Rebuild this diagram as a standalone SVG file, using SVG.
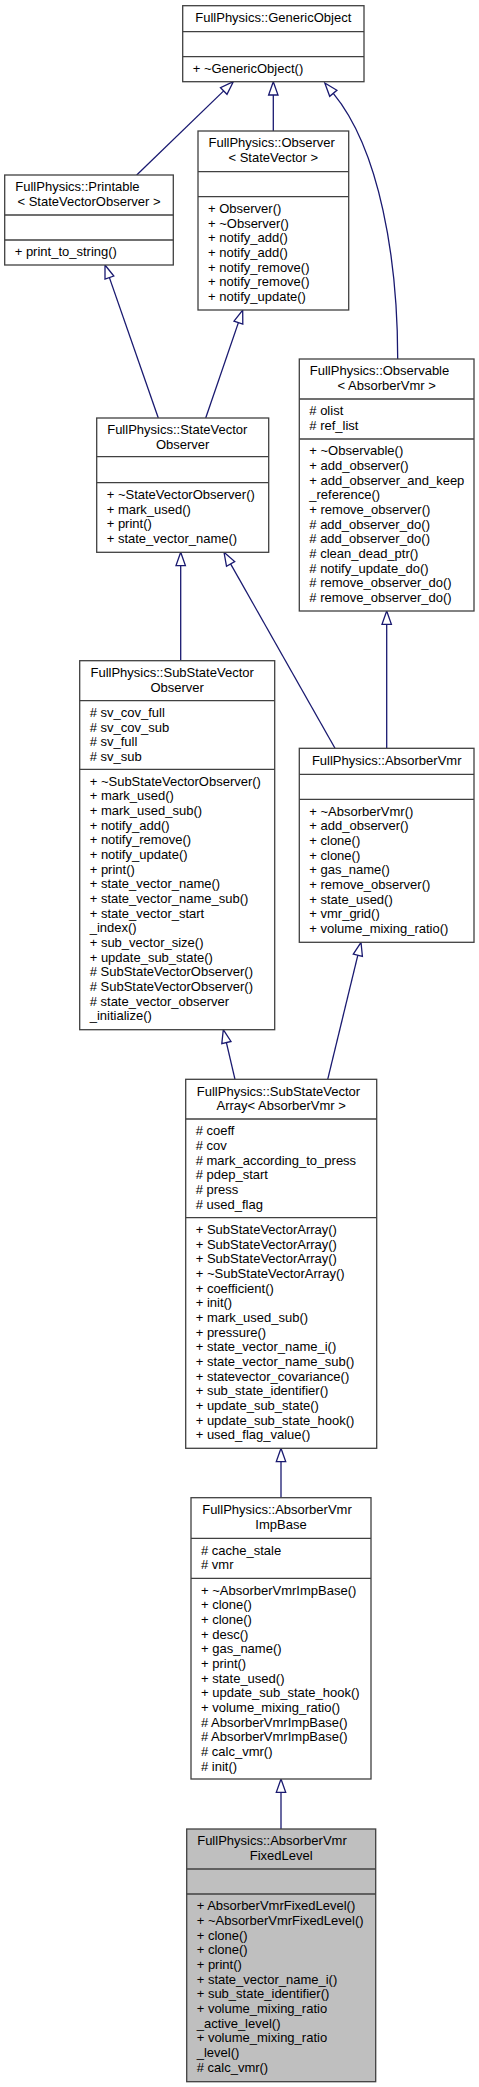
<svg xmlns="http://www.w3.org/2000/svg" width="479" height="2087" viewBox="0 0 479 2087">
<style>
rect{fill:#ffffff;stroke:#404040;stroke-width:1.3}
rect.cur{fill:#bfbfbf}
line.d{stroke:#404040;stroke-width:1.3}
text{font-family:"Liberation Sans",Arial,Helvetica,sans-serif;font-size:13px;fill:#000000}
text.c{text-anchor:middle}
.edges path{fill:none;stroke:#191970;stroke-width:1.3}
.edges polygon{fill:#ffffff;stroke:#191970;stroke-width:1.3}
</style>
<rect x="0" y="0" width="479" height="2087" style="fill:#ffffff;stroke:none"/>

<g id="edges" class="edges">
<path d="M136.7,175 L223.7,90.9"/>
<polygon points="233.3,81.7 227,94.3 220.5,87.6"/>
<path d="M273.3,131 L273.3,95"/>
<polygon points="273.3,81.7 278,95 268.6,95"/>
<path d="M397.7,359 C397.7,260 380,150 333.3,93.3"/>
<polygon points="324.8,83 336.9,90.3 329.7,96.3"/>
<path d="M158.3,418 L109.4,277.6"/>
<polygon points="105,265 113.8,276 105,279.1"/>
<path d="M205.7,418 L238.4,322.6"/>
<polygon points="242.7,310 242.8,324.1 234,321.1"/>
<path d="M180.7,660.7 L180.7,565.6"/>
<polygon points="180.7,552.3 185.4,565.6 176,565.6"/>
<path d="M335,748.3 L230.6,563.9"/>
<polygon points="224,552.3 234.7,561.6 226.5,566.2"/>
<path d="M386.7,748.3 L386.7,624.3"/>
<polygon points="386.7,611 391.4,624.3 382,624.3"/>
<path d="M235,1079.3 L226.4,1042.6"/>
<polygon points="223.3,1029.7 231,1041.5 221.8,1043.7"/>
<path d="M327.7,1079.3 L357.85,955.2"/>
<polygon points="361,942.3 362.4,956.3 353.3,954.1"/>
<path d="M281,1497.7 L281,1461.6"/>
<polygon points="281,1448.3 285.7,1461.6 276.3,1461.6"/>
<path d="M281,1829 L281,1792.3"/>
<polygon points="281,1779 285.7,1792.3 276.3,1792.3"/>
</g>

<g id="GenericObject">
<rect x="182.7" y="5.7" width="181.3" height="76"/>
<line class="d" x1="182.7" y1="31.7" x2="364" y2="31.7"/>
<line class="d" x1="182.7" y1="56.7" x2="364" y2="56.7"/>
<text class="c" x="273.3" y="22">FullPhysics::GenericObject</text>
<text x="192.7" y="73">+ ~GenericObject()</text>
</g>

<g id="Observer">
<rect x="198" y="131" width="150.7" height="179"/>
<line class="d" x1="198" y1="171.7" x2="348.7" y2="171.7"/>
<line class="d" x1="198" y1="196.7" x2="348.7" y2="196.7"/>
<text x="208.5" y="147.3">FullPhysics::Observer</text>
<text class="c" x="273.3" y="162">&lt; StateVector &gt;</text>
<text x="208" y="213">+ Observer()</text>
<text x="208" y="227.7">+ ~Observer()</text>
<text x="208" y="242.3">+ notify_add()</text>
<text x="208" y="257">+ notify_add()</text>
<text x="208" y="271.7">+ notify_remove()</text>
<text x="208" y="286.3">+ notify_remove()</text>
<text x="208" y="301">+ notify_update()</text>
</g>

<g id="Printable">
<rect x="4.7" y="175" width="168.6" height="90"/>
<line class="d" x1="4.7" y1="215" x2="173.3" y2="215"/>
<line class="d" x1="4.7" y1="240" x2="173.3" y2="240"/>
<text x="15.3" y="191.3">FullPhysics::Printable</text>
<text class="c" x="89" y="206">&lt; StateVectorObserver &gt;</text>
<text x="14.7" y="256.3">+ print_to_string()</text>
</g>

<g id="Observable">
<rect x="299.3" y="359" width="174.7" height="252"/>
<line class="d" x1="299.3" y1="399" x2="474" y2="399"/>
<line class="d" x1="299.3" y1="439" x2="474" y2="439"/>
<text x="309.8" y="375.3">FullPhysics::Observable</text>
<text class="c" x="386.7" y="390">&lt; AbsorberVmr &gt;</text>
<text x="309.3" y="415.3"># olist</text>
<text x="309.3" y="430"># ref_list</text>
<text x="309.3" y="455.3">+ ~Observable()</text>
<text x="309.3" y="470">+ add_observer()</text>
<text x="309.3" y="484.7">+ add_observer_and_keep</text>
<text x="309.3" y="499.3">_reference()</text>
<text x="309.3" y="514">+ remove_observer()</text>
<text x="309.3" y="528.7"># add_observer_do()</text>
<text x="309.3" y="543.3"># add_observer_do()</text>
<text x="309.3" y="558"># clean_dead_ptr()</text>
<text x="309.3" y="572.7"># notify_update_do()</text>
<text x="309.3" y="587.3"># remove_observer_do()</text>
<text x="309.3" y="602"># remove_observer_do()</text>
</g>

<g id="StateVectorObserver">
<rect x="96.7" y="418" width="172" height="134.3"/>
<line class="d" x1="96.7" y1="456.7" x2="268.7" y2="456.7"/>
<line class="d" x1="96.7" y1="482.7" x2="268.7" y2="482.7"/>
<text x="107.2" y="434.3">FullPhysics::StateVector</text>
<text class="c" x="182.7" y="449">Observer</text>
<text x="106.7" y="499">+ ~StateVectorObserver()</text>
<text x="106.7" y="513.7">+ mark_used()</text>
<text x="106.7" y="528.3">+ print()</text>
<text x="106.7" y="543">+ state_vector_name()</text>
</g>

<g id="SubStateVectorObserver">
<rect x="79.7" y="660.7" width="195" height="369"/>
<line class="d" x1="79.7" y1="700.7" x2="274.7" y2="700.7"/>
<line class="d" x1="79.7" y1="769.3" x2="274.7" y2="769.3"/>
<text x="90.5" y="677">FullPhysics::SubStateVector</text>
<text class="c" x="177.2" y="691.7">Observer</text>
<text x="89.7" y="717"># sv_cov_full</text>
<text x="89.7" y="731.7"># sv_cov_sub</text>
<text x="89.7" y="746.3"># sv_full</text>
<text x="89.7" y="761"># sv_sub</text>
<text x="89.7" y="785.6">+ ~SubStateVectorObserver()</text>
<text x="89.7" y="800.3">+ mark_used()</text>
<text x="89.7" y="814.9">+ mark_used_sub()</text>
<text x="89.7" y="829.6">+ notify_add()</text>
<text x="89.7" y="844.3">+ notify_remove()</text>
<text x="89.7" y="858.9">+ notify_update()</text>
<text x="89.7" y="873.6">+ print()</text>
<text x="89.7" y="888.3">+ state_vector_name()</text>
<text x="89.7" y="902.9">+ state_vector_name_sub()</text>
<text x="89.7" y="917.6">+ state_vector_start</text>
<text x="89.7" y="932.3">_index()</text>
<text x="89.7" y="946.9">+ sub_vector_size()</text>
<text x="89.7" y="961.6">+ update_sub_state()</text>
<text x="89.7" y="976.3"># SubStateVectorObserver()</text>
<text x="89.7" y="990.9"># SubStateVectorObserver()</text>
<text x="89.7" y="1005.6"># state_vector_observer</text>
<text x="89.7" y="1020.3">_initialize()</text>
</g>

<g id="AbsorberVmr">
<rect x="299.3" y="748.3" width="174.7" height="194"/>
<line class="d" x1="299.3" y1="774.3" x2="474" y2="774.3"/>
<line class="d" x1="299.3" y1="799.3" x2="474" y2="799.3"/>
<text class="c" x="386.7" y="764.6">FullPhysics::AbsorberVmr</text>
<text x="309.3" y="815.6">+ ~AbsorberVmr()</text>
<text x="309.3" y="830.3">+ add_observer()</text>
<text x="309.3" y="844.9">+ clone()</text>
<text x="309.3" y="859.6">+ clone()</text>
<text x="309.3" y="874.3">+ gas_name()</text>
<text x="309.3" y="888.9">+ remove_observer()</text>
<text x="309.3" y="903.6">+ state_used()</text>
<text x="309.3" y="918.3">+ vmr_grid()</text>
<text x="309.3" y="932.9">+ volume_mixing_ratio()</text>
</g>

<g id="SubStateVectorArray">
<rect x="185.7" y="1079.3" width="191" height="369"/>
<line class="d" x1="185.7" y1="1119" x2="376.7" y2="1119"/>
<line class="d" x1="185.7" y1="1217.7" x2="376.7" y2="1217.7"/>
<text x="196.8" y="1095.6">FullPhysics::SubStateVector</text>
<text class="c" x="281.2" y="1110.3">Array&lt; AbsorberVmr &gt;</text>
<text x="195.7" y="1135.3"># coeff</text>
<text x="195.7" y="1150"># cov</text>
<text x="195.7" y="1164.6"># mark_according_to_press</text>
<text x="195.7" y="1179.3"># pdep_start</text>
<text x="195.7" y="1194"># press</text>
<text x="195.7" y="1208.6"># used_flag</text>
<text x="195.7" y="1234">+ SubStateVectorArray()</text>
<text x="195.7" y="1248.7">+ SubStateVectorArray()</text>
<text x="195.7" y="1263.3">+ SubStateVectorArray()</text>
<text x="195.7" y="1278">+ ~SubStateVectorArray()</text>
<text x="195.7" y="1292.7">+ coefficient()</text>
<text x="195.7" y="1307.3">+ init()</text>
<text x="195.7" y="1322">+ mark_used_sub()</text>
<text x="195.7" y="1336.7">+ pressure()</text>
<text x="195.7" y="1351.3">+ state_vector_name_i()</text>
<text x="195.7" y="1366">+ state_vector_name_sub()</text>
<text x="195.7" y="1380.7">+ statevector_covariance()</text>
<text x="195.7" y="1395.3">+ sub_state_identifier()</text>
<text x="195.7" y="1410">+ update_sub_state()</text>
<text x="195.7" y="1424.7">+ update_sub_state_hook()</text>
<text x="195.7" y="1439.3">+ used_flag_value()</text>
</g>

<g id="AbsorberVmrImpBase">
<rect x="191" y="1497.7" width="180" height="281.3"/>
<line class="d" x1="191" y1="1538.3" x2="371" y2="1538.3"/>
<line class="d" x1="191" y1="1578.3" x2="371" y2="1578.3"/>
<text x="202.2" y="1514">FullPhysics::AbsorberVmr</text>
<text class="c" x="281" y="1528.7">ImpBase</text>
<text x="201" y="1554.6"># cache_stale</text>
<text x="201" y="1569.3"># vmr</text>
<text x="201" y="1594.6">+ ~AbsorberVmrImpBase()</text>
<text x="201" y="1609.3">+ clone()</text>
<text x="201" y="1623.9">+ clone()</text>
<text x="201" y="1638.6">+ desc()</text>
<text x="201" y="1653.3">+ gas_name()</text>
<text x="201" y="1667.9">+ print()</text>
<text x="201" y="1682.6">+ state_used()</text>
<text x="201" y="1697.3">+ update_sub_state_hook()</text>
<text x="201" y="1711.9">+ volume_mixing_ratio()</text>
<text x="201" y="1726.6"># AbsorberVmrImpBase()</text>
<text x="201" y="1741.3"># AbsorberVmrImpBase()</text>
<text x="201" y="1755.9"># calc_vmr()</text>
<text x="201" y="1770.6"># init()</text>
</g>

<g id="AbsorberVmrFixedLevel">
<rect class="cur" x="186.7" y="1829" width="189" height="252.7"/>
<line class="d" x1="186.7" y1="1869" x2="375.7" y2="1869"/>
<line class="d" x1="186.7" y1="1894" x2="375.7" y2="1894"/>
<text x="197.2" y="1845.3">FullPhysics::AbsorberVmr</text>
<text class="c" x="281.2" y="1860">FixedLevel</text>
<text x="196.7" y="1910.3">+ AbsorberVmrFixedLevel()</text>
<text x="196.7" y="1925">+ ~AbsorberVmrFixedLevel()</text>
<text x="196.7" y="1939.6">+ clone()</text>
<text x="196.7" y="1954.3">+ clone()</text>
<text x="196.7" y="1969">+ print()</text>
<text x="196.7" y="1983.6">+ state_vector_name_i()</text>
<text x="196.7" y="1998.3">+ sub_state_identifier()</text>
<text x="196.7" y="2013">+ volume_mixing_ratio</text>
<text x="196.7" y="2027.6">_active_level()</text>
<text x="196.7" y="2042.3">+ volume_mixing_ratio</text>
<text x="196.7" y="2057">_level()</text>
<text x="196.7" y="2071.7"># calc_vmr()</text>
</g>
</svg>
